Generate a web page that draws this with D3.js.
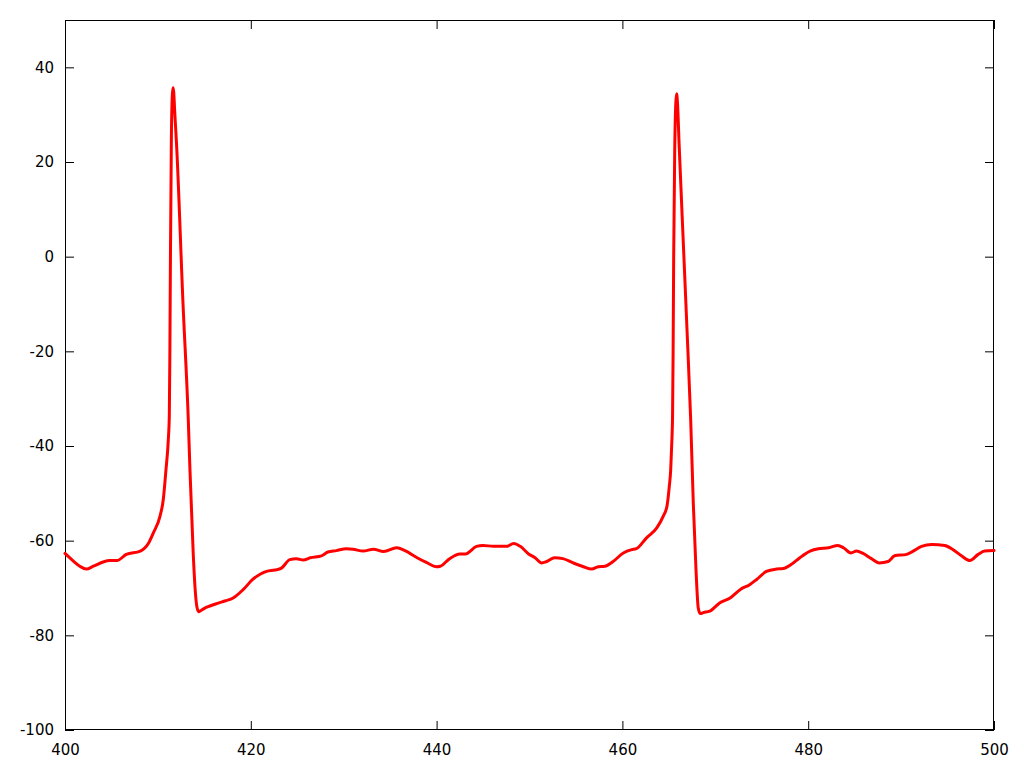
<!DOCTYPE html>
<html>
<head>
<meta charset="utf-8">
<script src="https://cdn.jsdelivr.net/npm/d3@7"></script>
<style>
  html, body { margin: 0; padding: 0; background: #fff; }
  svg { display: block; }
  .tick text { font-family: "DejaVu Sans", sans-serif; font-size: 15px; fill: #000; }
</style>
</head>
<body>
<svg id="chart" width="1024" height="768"></svg>
<script>
const timeMs = [
  400.0, 400.9, 401.6, 402.3, 403.05, 404.1, 404.8, 405.6, 406.6, 408.1,
  409.0, 409.5, 410.23, 410.58, 410.87, 411.12, 411.23, 411.29, 411.35, 411.45, 411.55,
  411.63, 411.7, 411.8, 411.9, 412.0, 412.7, 413.27, 413.45, 413.8, 414.0, 414.2, 414.4,
  414.6, 415.0, 415.6, 416.5, 417.3, 418.1, 419.2, 420.2, 421.0, 421.7,
  422.6, 423.3, 424.2, 424.9, 425.65, 426.4, 427.6, 428.3, 429.2, 430.3,
  431.0, 432.1, 433.2, 434.3, 435.7, 436.6, 437.9, 438.9, 440.0, 440.4,
  441.4, 442.5, 443.1, 444.3, 445.0, 446.1, 447.5, 448.3, 449.0, 449.9,
  450.6, 451.3, 451.85, 452.7, 453.6, 454.7, 455.8, 456.7, 457.4, 458.1,
  459.0, 460.1, 461.0, 461.5, 462.6, 463.7, 464.4, 464.8, 465.05, 465.2,
  465.3, 465.4, 465.46, 465.52, 465.63, 465.75, 465.84, 465.93, 466.1, 466.5, 467.0,
  467.35, 467.63, 467.92, 468.17, 468.4, 468.7, 469.4, 470.5, 471.6, 472.7,
  473.7, 474.45, 475.5, 476.6, 477.3, 478.2, 479.1, 480.2, 481.1, 482.2,
  483.2, 483.8, 484.6, 485.2, 485.9, 486.8, 487.65, 488.6, 489.3, 490.6,
  491.3, 492.2, 493.3, 494.7, 495.6, 496.5, 497.4, 498.3, 499.0, 500.0
];
const voltageMv = [
  -62.7, -64.3, -65.4, -66.0, -65.4, -64.5, -64.2, -64.2, -62.9, -62.2,
  -60.5, -58.4, -54.8, -51.3, -45.0, -38.7, -33.5, -20.0, 0.0, 25.0, 34.0,
  35.7, 34.8, 31.0, 27.5, 24.0, -9.8, -34.4, -45.0, -62.6, -70.0, -74.0, -75.0,
  -74.8, -74.3, -73.8, -73.2, -72.7, -72.1, -70.3, -68.2, -67.1, -66.5,
  -66.2, -65.8, -64.0, -63.8, -64.1, -63.6, -63.2, -62.4, -62.1, -61.7,
  -61.8, -62.2, -61.8, -62.3, -61.5, -62.1, -63.6, -64.6, -65.5, -65.4,
  -63.8, -62.8, -62.8, -61.2, -61.0, -61.2, -61.2, -60.6, -61.2, -62.8,
  -63.6, -64.7, -64.4, -63.6, -63.8, -64.7, -65.5, -66.0, -65.5, -65.4,
  -64.4, -62.6, -61.9, -61.7, -59.4, -57.3, -54.8, -52.7, -48.5, -45.0,
  -40.1, -33.5, -20.0, 0.0, 22.0, 32.5, 34.4, 32.5, 24.0, 5.5, -17.5,
  -34.4, -52.0, -66.0, -74.3, -75.4, -75.2, -74.9, -73.1, -72.1, -70.3,
  -69.3, -68.2, -66.5, -66.0, -65.9, -65.0, -63.6, -62.2, -61.7, -61.5,
  -61.0, -61.5, -62.6, -62.2, -62.7, -63.8, -64.7, -64.4, -63.2, -62.9,
  -62.2, -61.2, -60.8, -61.0, -61.9, -63.2, -64.2, -62.9, -62.2, -62.1
];
const xTicks = [400, 420, 440, 460, 480, 500];
const yTicks = [-100, -80, -60, -40, -20, 0, 20, 40];

const svg = d3.select("#chart");
const margin = {left: 65, right: 30, top: 20, bottom: 38};
const W = 1024, H = 768;
const x = d3.scaleLinear().domain([400, 500]).range([margin.left, W - margin.right]);
const y = d3.scaleLinear().domain([-100, 50]).range([H - margin.bottom, margin.top]);
const tick = 9;
const fmt = d => String(d);

const gB = svg.append("g").attr("transform", `translate(0,${H - margin.bottom})`)
  .call(d3.axisBottom(x).tickValues(xTicks).tickFormat(fmt).tickSizeInner(-tick).tickSizeOuter(0).tickPadding(14));
const gT = svg.append("g").attr("transform", `translate(0,${margin.top})`)
  .call(d3.axisTop(x).tickValues(xTicks).tickFormat("").tickSizeInner(-tick).tickSizeOuter(0));
const gL = svg.append("g").attr("transform", `translate(${margin.left},0)`)
  .call(d3.axisLeft(y).tickValues(yTicks).tickFormat(fmt).tickSizeInner(-tick).tickSizeOuter(0).tickPadding(11));
const gR = svg.append("g").attr("transform", `translate(${W - margin.right},0)`)
  .call(d3.axisRight(y).tickValues(yTicks).tickFormat("").tickSizeInner(-tick).tickSizeOuter(0));

[gB, gT, gL, gR].forEach(g => {
  g.select(".domain").remove();
  g.selectAll(".tick line").attr("stroke", "#000").attr("stroke-width", 1);
});
gB.selectAll(".tick text").attr("dy", "0.71em");

svg.append("rect")
  .attr("x", margin.left + 0.5).attr("y", margin.top + 0.5)
  .attr("width", W - margin.right - margin.left - 1)
  .attr("height", H - margin.bottom - margin.top - 1)
  .attr("fill", "none").attr("stroke", "#000").attr("stroke-width", 1);

const data = timeMs.map((t, i) => [t, voltageMv[i]]);
const line = d3.line().x(d => x(d[0])).y(d => y(d[1])).curve(d3.curveMonotoneX);
svg.append("path").datum(data)
  .attr("d", line)
  .attr("fill", "none").attr("stroke", "#ff0000").attr("stroke-width", 3)
  .attr("stroke-linejoin", "round").attr("stroke-linecap", "round");
</script>
</body>
</html>
